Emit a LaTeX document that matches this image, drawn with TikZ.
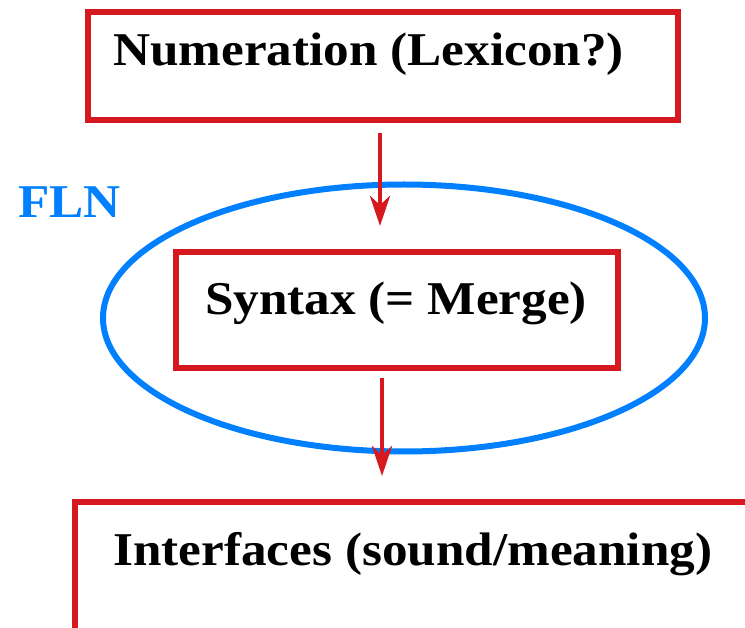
\documentclass[tikz,border=0pt]{standalone}
\usepackage{fontspec}
\setmainfont{Liberation Serif}
\usepackage{xcolor}
\usetikzlibrary{shapes.geometric,arrows.meta}
\definecolor{boxred}{RGB}{213,25,30}
\definecolor{flnblue}{RGB}{0,128,255}
\tikzset{
  box/.style={draw=boxred, line width=6pt, rectangle, inner sep=0pt},
  label text/.style={font=\fontsize{47}{56}\selectfont\bfseries, inner sep=0pt, xscale=1.09, transform shape},
  flow/.style={draw=boxred, line width=4.5pt, -{Stealth[length=30pt,width=20pt,inset=9pt]}}
}
\begin{document}
\begin{tikzpicture}[x=1pt,y=-1pt]
  \fill[white] (0,0) rectangle (745,628);
  \useasboundingbox (0,0) rectangle (745,628);
  \clip (0,0) rectangle (745,628);

  \node[box, minimum width=590pt, minimum height=108pt] (num) at (383,66) {};
  \node[label text, anchor=base west] (numtext) at (113,66) {Numeration (Lexicon?)};

  \node[draw=flnblue, line width=6pt, ellipse, minimum width=602pt, minimum height=267pt] (fln) at (404,318) {};
  \node[label text, text=flnblue, anchor=base west] (flntext) at (18,218) {FLN};

  \node[box, minimum width=442pt, minimum height=116pt] (syn) at (397,310) {};
  \node[label text, anchor=base] (syntext) at (396,315) {Syntax (= Merge)};

  \node[box, minimum width=700pt, minimum height=200pt] (int) at (425,602) {};
  \node[label text, anchor=base west] (inttext) at (113,565) {Interfaces (sound/meaning)};

  \coordinate (tipa) at (380,226);
  \coordinate (tipb) at (382,476);
  \draw[flow] ([yshift=-10pt]num.south -| tipa) -- (tipa);
  \draw[flow] ([yshift=-7pt]syn.south -| tipb) -- (tipb);
\end{tikzpicture}
\end{document}
